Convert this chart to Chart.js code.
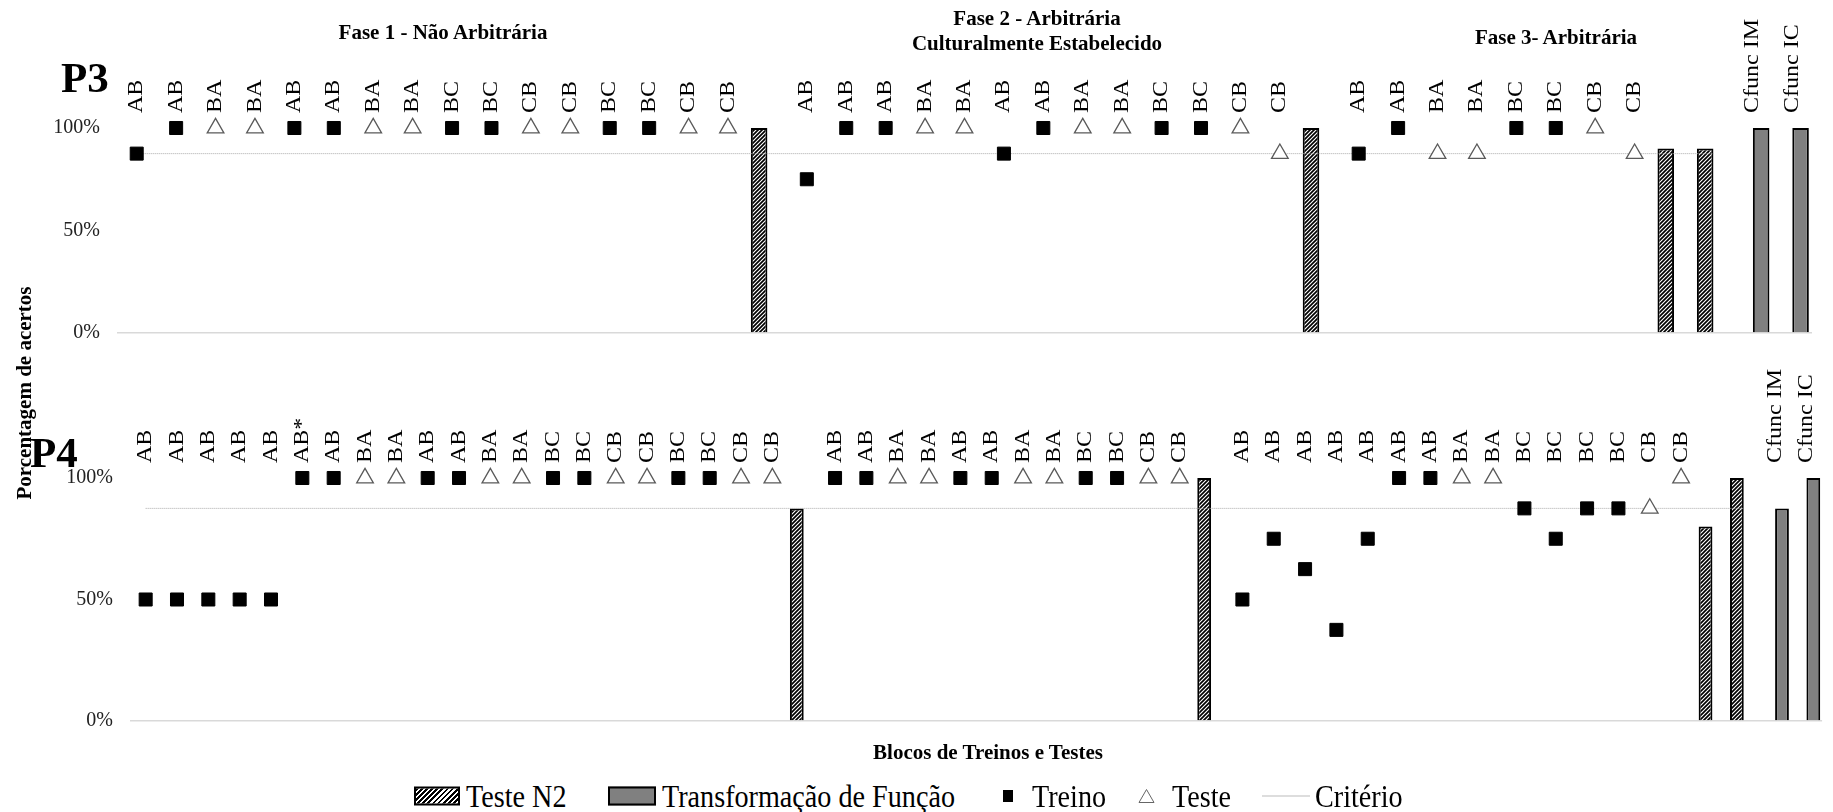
<!DOCTYPE html>
<html>
<head>
<meta charset="utf-8">
<script src="https://cdn.jsdelivr.net/npm/chart.js@4.4.1/dist/chart.umd.min.js"></script>
<style>
  body { margin: 0; width: 1833px; height: 812px; background: #fff; position: relative; overflow: hidden;
         font-family: "Liberation Serif", "Times New Roman", serif; color: #000; }
  canvas { position: absolute; left: 0; }
  .tit { position: absolute; white-space: nowrap; transform: translate(-50%, -50%); font-weight: bold; font-size: 21px;
         font-family: "Liberation Serif", serif; }
  .part { position: absolute; font-weight: bold; font-size: 43px; transform: translateY(-50%); font-family: "Liberation Serif", serif; }
  .leg { position: absolute; top: 796px; transform: translateY(-50%) scaleX(0.88); transform-origin: left center;
         font-size: 32px; white-space: nowrap; font-family: "Liberation Serif", serif; }
  .sw { position: absolute; top: 796px; transform: translateY(-50%); box-sizing: border-box; }
</style>
</head>
<body>
<canvas id="p3" width="1833" height="362" style="top:0"></canvas>
<canvas id="p4" width="1833" height="390" style="top:360px"></canvas>

<div class="tit" style="left:443px;top:32px">Fase 1 - Não Arbitrária</div>
<div class="tit" style="left:1037px;top:18px">Fase 2 - Arbitrária</div>
<div class="tit" style="left:1037px;top:43px">Culturalmente Estabelecido</div>
<div class="tit" style="left:1556px;top:37px">Fase 3- Arbitrária</div>
<div class="part" style="left:61px;top:77px">P3</div>
<div class="part" style="left:30px;top:452px">P4</div>
<div class="tit" style="left:24px;top:393px;transform:translate(-50%,-50%) rotate(-90deg)">Porcentagem de acertos</div>
<div class="tit" style="left:988px;top:752px">Blocos de Treinos e Testes</div>

<div class="sw" style="left:414px;width:46px;height:19px;border:2px solid #000;background:repeating-linear-gradient(135deg,#000 0 2px,#fff 2px 3.6px)"></div>
<div class="leg" style="left:466px">Teste N2</div>
<div class="sw" style="left:608px;width:48px;height:19px;border:2px solid #000;background:#808080"></div>
<div class="leg" style="left:662px">Transformação de Função</div>
<div class="sw" style="left:1003px;width:10px;height:12px;background:#000"></div>
<div class="leg" style="left:1032px">Treino</div>
<svg class="sw" style="left:1138px" width="17" height="15"><polygon points="8.5,1 16,14 1,14" fill="#fff" stroke="#666" stroke-width="1"/></svg>
<div class="leg" style="left:1172px">Teste</div>
<div class="sw" style="left:1262px;width:48px;height:0;border-top:1px solid #bbb"></div>
<div class="leg" style="left:1315px">Critério</div>

<script>
// P3
const p3Blocos = ['AB','AB','BA','BA','AB','AB','BA','BA','BC','BC','CB','CB','BC','BC','CB','CB','',
  'AB','AB','AB','BA','BA','AB','AB','BA','BA','BC','BC','CB','CB','',
  'AB','AB','BA','BA','BC','BC','CB','CB','','','Cfunc IM','Cfunc IC'];
const p3Treino = [87.5,100,null,null,100,100,null,null,100,100,null,null,100,100,null,null,null,
  75,100,100,null,null,87.5,100,null,null,100,100,null,null,null,
  87.5,100,null,null,100,100,null,null,null,null,null,null];
const p3Teste = [null,null,100,100,null,null,100,100,null,null,100,100,null,null,100,100,null,
  null,null,null,100,100,null,null,100,100,null,null,100,87.5,null,
  null,null,87.5,87.5,null,null,100,87.5,null,null,null,null];
const p3TesteN2 = [[16, 100], [30, 100], [39, 90], [40, 90]];
const p3Transf = [[41, 100], [42, 100]];
const p3Criterio = [[0, 87.5], [40, 87.5]];

// P4
const p4Blocos = ['AB','AB','AB','AB','AB','AB*','AB','BA','BA','AB','AB','BA','BA','BC','BC','CB','CB','BC','BC','CB','CB','',
  'AB','AB','BA','BA','AB','AB','BA','BA','BC','BC','CB','CB','',
  'AB','AB','AB','AB','AB','AB','AB','BA','BA','BC','BC','BC','BC','CB','CB','','','Cfunc IM','Cfunc IC'];
const p4Treino = [50,50,50,50,50,100,100,null,null,100,100,null,null,100,100,null,null,100,100,null,null,null,
  100,100,null,null,100,100,null,null,100,100,null,null,null,
  50,75,62.5,37.5,75,100,100,null,null,87.5,75,87.5,87.5,null,null,null,null,null,null];
const p4Teste = [null,null,null,null,null,null,null,100,100,null,null,100,100,null,null,100,100,null,null,100,100,null,
  null,null,100,100,null,null,100,100,null,null,100,100,null,
  null,null,null,null,null,null,null,100,100,null,null,null,null,87.5,100,null,null,null,null];
const p4TesteN2 = [[21, 87.5], [34, 100], [50, 80], [51, 100]];
const p4Transf = [[52, 87.5], [53, 100]];
const p4Criterio = [[0, 87.5], [51, 87.5]];

const yTicks = [0, 50, 100];

// hatch for Teste N2
function hatch() {
  const c = document.createElement('canvas');
  c.width = 4; c.height = 4;
  const g = c.getContext('2d');
  g.fillStyle = '#fff'; g.fillRect(0, 0, 4, 4);
  g.strokeStyle = '#000'; g.lineWidth = 1.7;
  g.beginPath();
  g.moveTo(-1, 5); g.lineTo(5, -1);
  g.moveTo(-1, 1); g.lineTo(1, -1);
  g.moveTo(3, 5); g.lineTo(5, 3);
  g.stroke();
  return g.createPattern(c, 'repeat');
}

const pts = arr => arr.map(([x, y]) => ({ x, y }));

// rotated block labels above the 100% line
const rotulos = {
  id: 'rotulos',
  afterDatasetsDraw(chart, args, opts) {
    const { ctx } = chart;
    const x = chart.scales.x, y = chart.scales.y;
    const base = y.getPixelForValue(100) - opts.gap;
    ctx.save();
    ctx.font = '24px "Liberation Serif", serif';
    ctx.fillStyle = '#000';
    ctx.textAlign = 'left';
    ctx.textBaseline = 'middle';
    opts.labels.forEach((txt, i) => {
      if (!txt) return;
      ctx.save();
      ctx.translate(x.getPixelForValue(i), base);
      ctx.scale(0.88, 1);
      ctx.rotate(-Math.PI / 2);
      ctx.fillText(txt, 0, 0);
      ctx.restore();
    });
    ctx.restore();
  }
};

function painel(id, blocos, treino, teste, n2, transf, crit, axisW, pad, catPct) {
  new Chart(document.getElementById(id), {
    type: 'bar',
    data: {
      labels: blocos.map((_, i) => i),
      datasets: [
        { type: 'line', label: 'Treino', data: treino, showLine: false, clip: false,
          pointStyle: 'rect', pointRadius: 9.2, backgroundColor: '#000', borderColor: '#000', borderWidth: 1 },
        { type: 'line', label: 'Teste', data: teste, showLine: false, clip: false,
          pointStyle: 'triangle', pointRadius: 9.6, backgroundColor: '#fff', borderColor: '#5a5a5a', borderWidth: 1.3 },
        { type: 'line', label: 'Critério', data: pts(crit), pointRadius: 0, clip: false,
          borderColor: '#aaa', borderWidth: 1, borderDash: [1, 1] },
        { label: 'Teste N2', data: pts(n2), backgroundColor: hatch(), borderColor: '#000', borderWidth: 2,
          categoryPercentage: catPct, barPercentage: 1 },
        { label: 'Transformação de Função', data: pts(transf), backgroundColor: '#808080', borderColor: '#000', borderWidth: 2,
          categoryPercentage: catPct, barPercentage: 1 }
      ]
    },
    options: {
      responsive: false,
      animation: false,
      events: [],
      layout: { padding: pad },
      scales: {
        x: { display: false, offset: true },
        y: {
          min: 0, max: 100,
          afterFit: s => { s.width = axisW; },
          afterBuildTicks: s => { s.ticks = yTicks.map(v => ({ value: v })); },
          border: { display: false },
          grid: { drawTicks: false, lineWidth: 1.5,
                  color: c => c.tick && c.tick.value === 0 ? '#d9d9d9' : 'rgba(0,0,0,0)' },
          ticks: { padding: 17, color: '#222', font: { family: '"Liberation Serif", serif', size: 20 },
                   callback: v => v + '%' }
        }
      },
      plugins: {
        legend: { display: false },
        tooltip: { enabled: false },
        rotulos: { labels: blocos, gap: 15 }
      }
    },
    plugins: [rotulos]
  });
}

painel('p3', p3Blocos, p3Treino, p3Teste, p3TesteN2, p3Transf, p3Criterio, 117,
  { top: 128, bottom: 15, left: 0, right: 21 }, 0.84);
painel('p4', p4Blocos, p4Treino, p4Teste, p4TesteN2, p4Transf, p4Criterio, 130,
  { top: 118, bottom: 22, left: 0, right: 5 }, 0.88);
</script>
</body>
</html>
